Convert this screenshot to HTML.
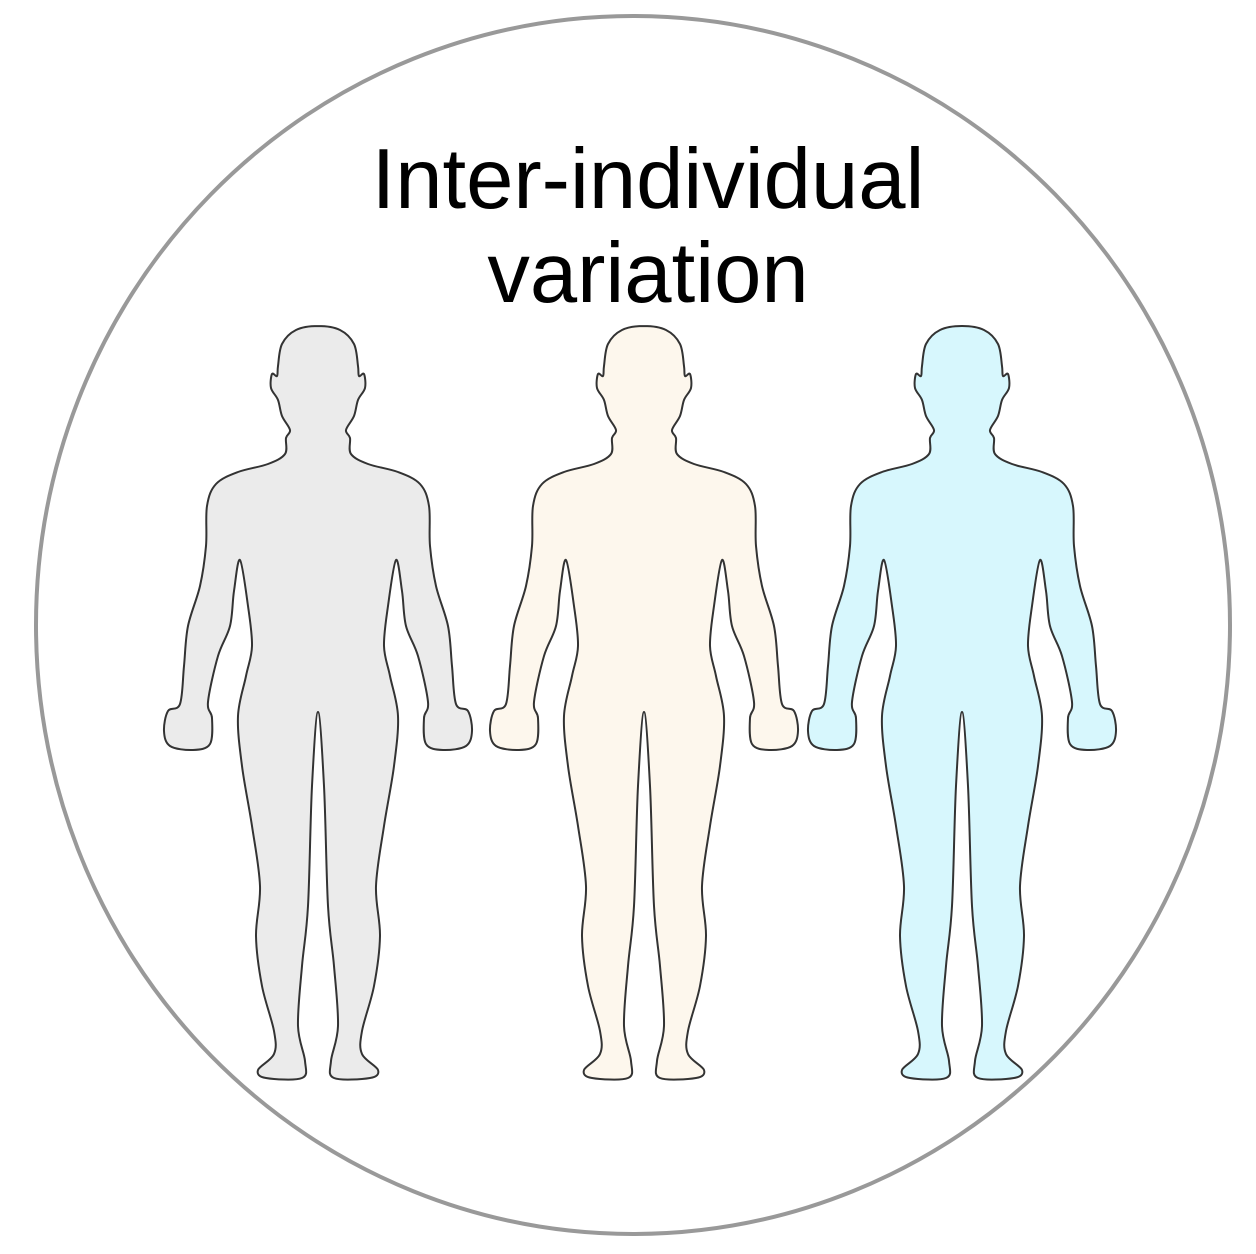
<!DOCTYPE html>
<html><head><meta charset="utf-8"><style>
html,body{margin:0;padding:0;background:#fff;}
svg{display:block;}
</style></head><body>
<svg id="s" width="1256" height="1254" viewBox="0 0 1256 1254">
<ellipse cx="633" cy="625" rx="597" ry="609" fill="#fff" stroke="#999" stroke-width="4"/>
<text x="648" y="208" font-family="Liberation Sans, sans-serif" font-size="85" text-anchor="middle" fill="#000">Inter-individual</text>
<text x="648" y="302" font-family="Liberation Sans, sans-serif" font-size="85" text-anchor="middle" fill="#000">variation</text>
<g id="figs"></g>
</svg>
<script>
const half=[[0,0],[-22,4],[-36,18],[-40,40],[-41,50],[-46,48],[-47,62],[-40,74],[-36,90],[-28,104],[-32,112],[-33,128],[-50,138],[-80,146],[-102,158],[-111,180],[-112,220],[-118,260],[-130,300],[-134,340],[-138,378],[-150,385],[-154,405],[-148,420],[-125,424],[-108,418],[-106,392],[-110,376],[-100,330],[-88,300],[-84,265],[-78,234],[-70,280],[-66,320],[-72,350],[-80,390],[-76,440],[-66,500],[-58,560],[-62,610],[-56,660],[-44,705],[-44,728],[-60,744],[-52,752],[-16,752],[-13,735],[-20,700],[-16,640],[-10,580],[-6,460],[0,386]];
const pts=half.concat(half.slice(1,-1).reverse().map(p=>[-p[0],p[1]]));
function smooth(p){
  const n=p.length;let d=`M${p[0][0]},${p[0][1]}`;
  for(let i=0;i<n;i++){
    const p0=p[(i-1+n)%n],p1=p[i],p2=p[(i+1)%n],p3=p[(i+2)%n];
    const c1=[p1[0]+(p2[0]-p0[0])/6,p1[1]+(p2[1]-p0[1])/6];
    const c2=[p2[0]-(p3[0]-p1[0])/6,p2[1]-(p3[1]-p1[1])/6];
    d+=`C${c1[0].toFixed(1)},${c1[1].toFixed(1)} ${c2[0].toFixed(1)},${c2[1].toFixed(1)} ${p2[0]},${p2[1]}`;
  }
  return d+'Z';
}
const d=smooth(pts);
const figs=[[318,'#ebebeb','figure-gray'],[644,'#fdf7ed','figure-cream'],[962,'#d7f7fd','figure-blue']];
const g=document.getElementById('figs');
figs.forEach(f=>{
  const el=document.createElementNS('http://www.w3.org/2000/svg','path');
  el.setAttribute('d',d);
  el.setAttribute('transform',`translate(${f[0]},326)`);
  el.setAttribute('fill',f[1]);
  el.setAttribute('stroke','#333');
  el.setAttribute('stroke-width','2');
  
  
  g.appendChild(el);
});
</script>
</body></html>
